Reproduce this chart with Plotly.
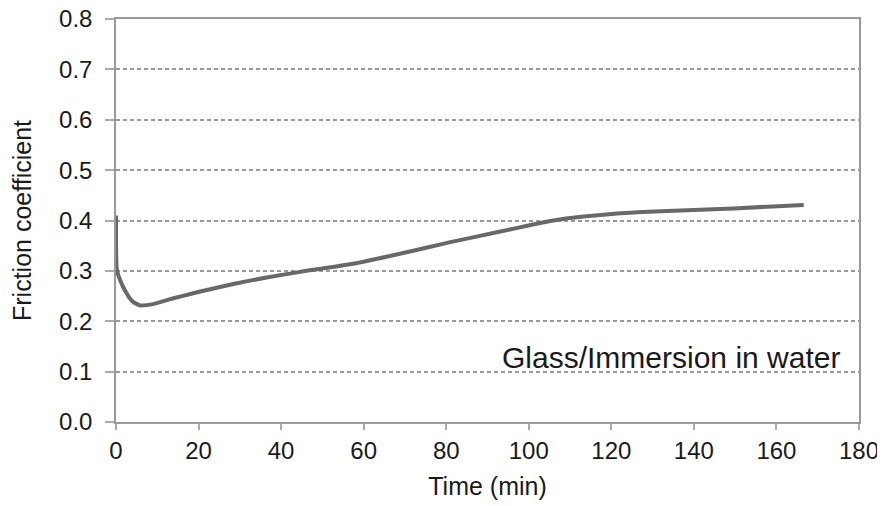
import plotly.graph_objects as go

time_min = [0, 0, 0.15, 0.5, 1.0, 1.8, 2.6, 3.4, 4.2, 5.8, 7.4, 9.0, 12.3, 16.0, 20.4, 28.4, 36.5,
            44.6, 56.7, 68.8, 81.0, 93.1, 101.0, 105.2, 109.0, 113.3, 121.4, 133.5,
            149.6, 166.6]
friction = [0.41, 0.36, 0.305, 0.293, 0.282, 0.267, 0.255, 0.245, 0.238, 0.2315, 0.232, 0.234,
            0.242, 0.250, 0.259, 0.274, 0.287, 0.298, 0.313, 0.334, 0.357, 0.378,
            0.392, 0.399, 0.404, 0.408, 0.414, 0.419, 0.424, 0.431]

x_ticks = [0, 20, 40, 60, 80, 100, 120, 140, 160, 180]
y_ticks = [0.0, 0.1, 0.2, 0.3, 0.4, 0.5, 0.6, 0.7, 0.8]
y_tick_labels = ["0.0", "0.1", "0.2", "0.3", "0.4", "0.5", "0.6", "0.7", "0.8"]

FONT = "Liberation Sans, Arial, sans-serif"
TXT = "#1a1a1a"

fig = go.Figure()
fig.add_trace(go.Scatter(
    x=time_min, y=friction, mode="lines",
    line=dict(color="#686868", width=4, shape="spline", smoothing=0.4),
    showlegend=False, hoverinfo="skip",
))

fig.add_annotation(
    x=175.8, y=0.128, xref="x", yref="y", xanchor="right", yanchor="middle",
    text="Glass/Immersion in water", showarrow=False,
    font=dict(family=FONT, size=30, color=TXT),
)

fig.update_layout(
    width=877, height=498,
    margin=dict(l=108, r=26, t=11, b=84),
    paper_bgcolor="white", plot_bgcolor="white",
    font=dict(family=FONT, color=TXT),
)

fig.update_xaxes(
    range=[0, 180], tickvals=x_ticks, ticktext=[str(v) for v in x_ticks],
    showgrid=False, zeroline=False, automargin=False, ticklabeloverflow="allow",
    showline=True, linecolor="#999999", linewidth=1.5, mirror=True,
    ticks="outside", ticklen=6, tickcolor="#aaaaaa", tickwidth=1.5,
    tickfont=dict(family=FONT, size=24, color=TXT),
    title=dict(text="Time (min)", font=dict(family=FONT, size=25, color=TXT), standoff=15),
)
fig.update_yaxes(
    range=[0, 0.8], tickvals=y_ticks, ticktext=y_tick_labels,
    showgrid=True, gridcolor="#999999", gridwidth=1.5, griddash="4px,3px",
    zeroline=False, automargin=False, ticklabeloverflow="allow",
    showline=True, linecolor="#999999", linewidth=1.5, mirror=True,
    ticks="outside", ticklen=9, tickcolor="#aaaaaa", tickwidth=1.5,
    ticklabelstandoff=8,
    tickfont=dict(family=FONT, size=24, color=TXT),
    title=dict(text="Friction coefficient", font=dict(family=FONT, size=25, color=TXT), standoff=21),
)

fig.write_html("out.html")
